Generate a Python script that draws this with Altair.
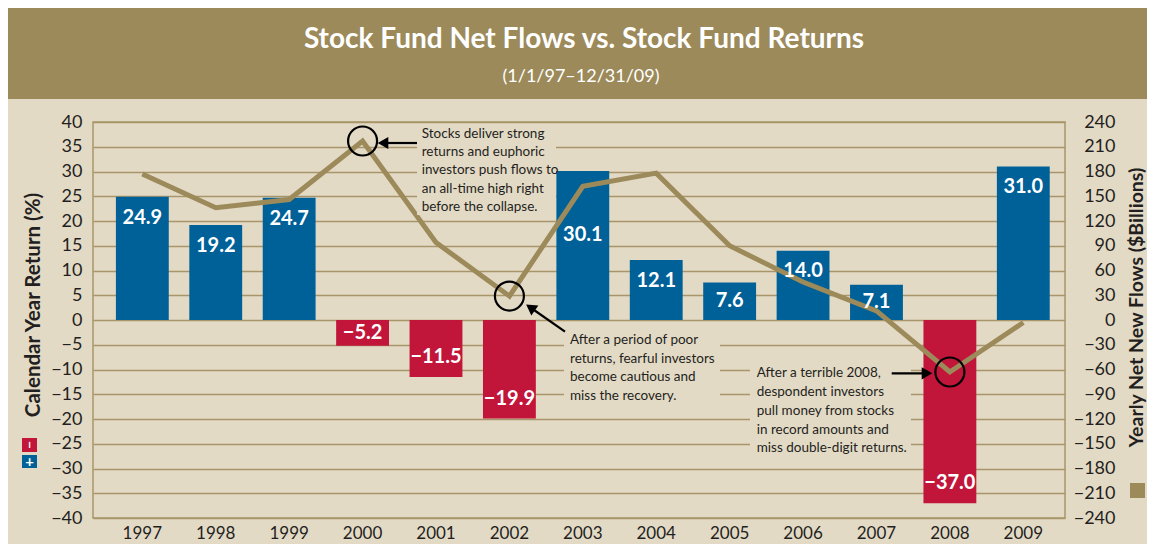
import altair as alt
import pandas as pd

# ---------------- data ----------------
years = ["1997", "1998", "1999", "2000", "2001", "2002", "2003",
         "2004", "2005", "2006", "2007", "2008", "2009"]
returns = [24.9, 19.2, 24.7, -5.2, -11.5, -19.9, 30.1, 12.1, 7.6, 14.0, 7.1, -37.0, 31.0]
flows = [177, 136, 146, 217, 94, 29, 162, 178, 90, 46, 11, -63, -3]
left_ticks = list(range(-40, 45, 5))
right_ticks = list(range(-240, 270, 30))
highlight_years = ["2000", "2002", "2008"]

title_text = "Stock Fund Net Flows vs. Stock Fund Returns"
subtitle_text = "(1/1/97\u201312/31/09)"
left_title = "Calendar Year Return (%)"
right_title = "Yearly Net New Flows ($Billions)"
note1 = ["Stocks deliver strong", "returns and euphoric", "investors push flows to",
         "an all-time high right", "before the collapse."]
note2 = ["After a period of poor", "returns, fearful investors",
         "become cautious and", "miss the recovery."]
note3 = ["After a terrible 2008,", "despondent investors", "pull money from stocks",
         "in record amounts and", "miss double-digit returns."]

df = pd.DataFrame({"year": years, "ret": returns, "flow": flows})

# ---------------- style ----------------
BLUE = "#006098"
RED = "#C1153A"
OLIVE = "#9C8A5A"
GRID = "#A8966A"
BG = "#E3DAC6"
INK = "#231F20"
FONT = "Lato"
NOTE_FONT = "Lato"
NOTE_SIZE = 13.5

one = alt.Data(values=[{"k": 1}])

x_enc = alt.X(
    "year:N", sort=years, title=None,
    scale=alt.Scale(paddingInner=0.28, paddingOuter=0.26, align=0.6),
    axis=alt.Axis(labelAngle=0, labelFontSize=17, labelFont=FONT, labelColor=INK,
                  labelPadding=15, labelBaseline="middle", ticks=False, tickSize=0,
                  domain=False, grid=False),
)
left_scale = alt.Scale(domain=[-40, 40], nice=False, zero=False)
right_scale = alt.Scale(domain=[-240, 240], nice=False, zero=False)

bars = alt.Chart(df).mark_bar().encode(
    x=x_enc,
    y=alt.Y("ret:Q", scale=left_scale,
            axis=alt.Axis(values=left_ticks, title=None, labelFontSize=18, labelFont=FONT,
                          labelColor=INK, labelPadding=11, ticks=False, tickSize=0,
                          domain=False, grid=True, gridColor=GRID, gridWidth=1.5,
                          gridOpacity=1)),
    color=alt.condition(alt.datum.ret >= 0, alt.value(BLUE), alt.value(RED)),
)

bar_labels = alt.Chart(df).transform_calculate(
    label="(datum.ret < 0 ? '\u2212' : '') + format(abs(datum.ret), '.1f')",
    ly="datum.year == '2003' ? datum.ret - 13 : (datum.ret >= 0 ? max(datum.ret - 4.2, datum.ret / 2) : min(datum.ret + 4, datum.ret / 2))",
).mark_text(font=FONT, fontSize=20, fontWeight="bold", color="white",
            align="center", baseline="middle").encode(
    x=alt.X("year:N", sort=years),
    y=alt.Y("ly:Q", scale=left_scale, axis=None),
    text="label:N",
)

line = alt.Chart(df).mark_line(color=OLIVE, strokeWidth=5, strokeJoin="miter").encode(
    x=alt.X("year:N", sort=years),
    y=alt.Y("flow:Q", scale=right_scale,
            axis=alt.Axis(orient="right", values=right_ticks, title=None, labelFontSize=18,
                          labelFont=FONT, labelColor=INK, labelAlign="right",
                          labelPadding=50, ticks=False, tickSize=0, domain=False,
                          grid=False)),
)

circles = alt.Chart(df).transform_filter(
    alt.FieldOneOfPredicate(field="year", oneOf=highlight_years)
).mark_point(shape="circle", size=841, filled=False, stroke="black",
             strokeWidth=2.2, opacity=1).encode(
    x=alt.X("year:N", sort=years),
    y=alt.Y("flow:Q", scale=right_scale, axis=None),
)

# ---------------- decorations ----------------
def rect(x1, x2, y1, y2, color):
    return alt.Chart(one).mark_rect(color=color).encode(
        x=alt.value(x1), x2=alt.value(x2), y=alt.value(y1), y2=alt.value(y2))

def txt(text, x, y, **kw):
    return alt.Chart(one).mark_text(text=text, **kw).encode(x=alt.value(x), y=alt.value(y))

def seg(x1, y1, x2, y2):
    return alt.Chart(one).mark_rule(color="black", strokeWidth=2.2).encode(
        x=alt.value(x1), y=alt.value(y1), x2=alt.value(x2), y2=alt.value(y2))

def head(x, y, shape, angle=0):
    kw = {"angle": angle} if angle else {}
    return alt.Chart(one).mark_point(shape=shape, filled=True, size=150, color="black",
                                     opacity=1, **kw).encode(x=alt.value(x), y=alt.value(y))

header = rect(-85, 1054, -114, -23, OLIVE)
title = txt(title_text, 491, -74, font=FONT, fontSize=28, fontWeight="bold",
            color="white", align="center", baseline="alphabetic")
subtitle = txt(subtitle_text, 488, -40, font=FONT, fontSize=18, color="white",
               align="center", baseline="alphabetic")

ltitle = txt(left_title, -59, 183, font=FONT, fontSize=20.5, fontWeight="bold", color=INK,
             angle=270, align="center", baseline="middle")
red_icon = rect(-71, -56, 316, 330, RED)
blue_icon = rect(-71, -56, 333, 346, BLUE)
minus = txt("\u2212", -63.5, 323, font=FONT, fontSize=14, fontWeight="bold", color="white",
            angle=270, align="center", baseline="middle")
plus = txt("+", -63.5, 339.5, font=FONT, fontSize=15, fontWeight="bold", color="white",
           align="center", baseline="middle")

rtitle = txt(right_title, 1044, 185.5, font=FONT, fontSize=19.5, fontWeight="bold", color=INK,
             angle=270, align="center", baseline="middle")
olive_icon = rect(1037, 1052, 361, 376, OLIVE)

box1 = rect(324, 463, 3, 93, BG)
box2 = rect(471, 627, 207, 283, BG)
box3 = rect(657, 818, 240, 335, BG)

n1 = txt(note1, 328.7, 12, font=NOTE_FONT, fontSize=NOTE_SIZE, color=INK, align="left",
         baseline="middle", lineHeight=18.2)
n2 = txt(note2, 477, 218, font=NOTE_FONT, fontSize=NOTE_SIZE, color=INK, align="left",
         baseline="middle", lineHeight=18.6)
n3 = txt(note3, 663.7, 251.3, font=NOTE_FONT, fontSize=NOTE_SIZE, color=INK, align="left",
         baseline="middle", lineHeight=18.75)

a1 = seg(294, 21, 324, 21)
h1 = head(290, 21, "triangle-left")
a2 = seg(472, 209.7, 441, 188)
h2 = head(437.5, 185.5, "triangle-up", 305)
a3 = seg(798.7, 251.3, 830, 251.3)
h3 = head(834, 251.3, "triangle-right")

chart = alt.layer(
    bars, line, header, box1, box2, box3, bar_labels, circles,
    a1, h1, a2, h2, a3, h3, n1, n2, n3,
    title, subtitle, ltitle, red_icon, blue_icon, minus, plus, rtitle, olive_icon,
).resolve_scale(y="independent").properties(
    width=972, height=396,
    autosize=alt.AutoSizeParams(type="none"),
    padding={"left": 85, "top": 114, "right": 82, "bottom": 26},
).configure(background=BG).configure_view(stroke=GRID, strokeWidth=1.5)

chart.save("out.html", embed_options={"renderer": "svg", "actions": False})
